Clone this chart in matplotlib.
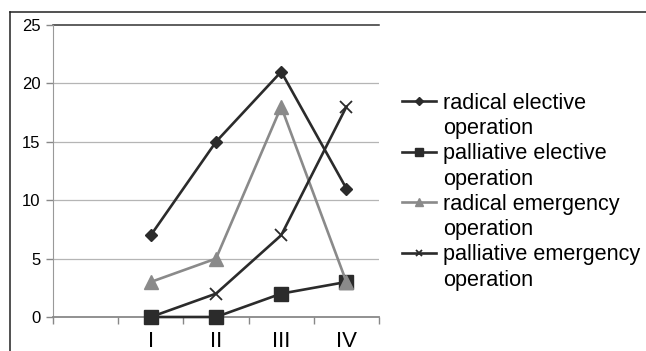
import matplotlib
matplotlib.use("Agg")
import matplotlib.pyplot as plt
from matplotlib.lines import Line2D
import numpy as np

plt.rcParams['font.family'] = ['Liberation Sans', 'DejaVu Sans']

categories = ["", "I", "II", "III", "IV"]
radical_elective = [np.nan, 7, 15, 21, 11]
palliative_elective = [np.nan, 0, 0, 2, 3]
radical_emergency = [np.nan, 3, 5, 18, 3]
palliative_emergency = [np.nan, 0, 2, 7, 18]

x = np.arange(len(categories))

fig = plt.figure(figsize=(6.46, 3.51), dpi=100)
ax = fig.add_axes([53 / 646, 34 / 351, 326 / 646, 292 / 351])

dark = '#2b2b2b'
l1, = ax.plot(x, radical_elective, color=dark, lw=1.9, marker='D', ms=6.5, clip_on=False, zorder=3)
l2, = ax.plot(x, palliative_elective, color=dark, lw=1.9, marker='s', ms=9.5, clip_on=False, zorder=3)
l3, = ax.plot(x, radical_emergency, color='#8a8a8a', lw=1.9, marker='^', ms=9.5, clip_on=False, zorder=3)
l4, = ax.plot(x, palliative_emergency, color=dark, lw=1.9, marker='x', ms=8, mew=1.3, clip_on=False, zorder=3)

# axes styling, excel-like
ax.set_xlim(-0.5, len(categories) - 0.5)
ax.set_ylim(0, 25)
ax.set_yticks(range(0, 26, 5))
for y in range(5, 25, 5):
    ax.axhline(y, color='#b5b5b5', lw=0.9, zorder=0)
ax.axhline(25, color='#333333', lw=1.1, zorder=0, clip_on=False)

ax.set_xticks(x)
ax.set_xticklabels(categories, fontsize=16)
ax.set_xticks(np.arange(-0.5, len(categories)), minor=True)
ax.tick_params(axis='x', which='major', length=0, pad=10)
ax.tick_params(axis='x', which='minor', length=5, color='#888888', width=1)
ax.tick_params(axis='y', length=5, color='#888888', width=1, labelsize=12, pad=4)

for s in ['top', 'right']:
    ax.spines[s].set_visible(False)
ax.spines['left'].set_color('#999999')
ax.spines['bottom'].set_color('#888888')
ax.spines['bottom'].set_linewidth(1.3)

# outer frame (left and top edges only)
fig.add_artist(Line2D([10 / 646, 10 / 646], [0, 1 - 12 / 351], color='#222222', lw=1.1))
fig.add_artist(Line2D([10 / 646, 1], [1 - 12 / 351, 1 - 12 / 351], color='#222222', lw=1.1))

blank = Line2D([], [], linestyle='none')
handles = [l1, blank, l2, blank, l3, blank, l4, blank]
labels = ["radical elective", "operation", "palliative elective", "operation",
          "radical emergency", "operation", "palliative emergency", "operation"]
fig.legend(handles, labels, loc='upper left', bbox_to_anchor=(402 / 646, 1 - 93 / 351),
           frameon=False, fontsize=15.6, borderpad=0, borderaxespad=0,
           labelspacing=0.195, handlelength=1.55, handletextpad=0.35, markerscale=0.6)

fig.savefig('out.png', dpi=100)
